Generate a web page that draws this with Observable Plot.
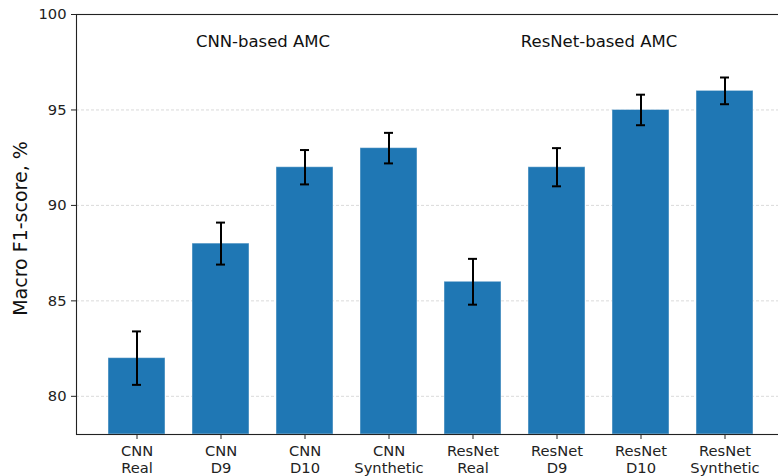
<!DOCTYPE html>
<html>
<head>
<meta charset="utf-8">
<script src="https://cdn.jsdelivr.net/npm/d3@7"></script>
<script src="https://cdn.jsdelivr.net/npm/@observablehq/plot@0.6"></script>
<style>
  html, body { margin: 0; padding: 0; background: #fff; }
  svg { overflow: hidden; }
</style>
</head>
<body>
<div id="chart"></div>
<script>
const categories = ["CNN\nReal", "CNN\nD9", "CNN\nD10", "CNN\nSynthetic",
                    "ResNet\nReal", "ResNet\nD9", "ResNet\nD10", "ResNet\nSynthetic"];
const f1Values = [82, 88, 92, 93, 86, 92, 95, 96];
const f1Errors = [1.4, 1.1, 0.9, 0.8, 1.2, 1.0, 0.8, 0.7];
const yTicks = [80, 85, 90, 95, 100];
const gridTicks = [80, 85, 90, 95];
const groupLabels = [
  {after: "CNN\nD9", text: "CNN-based AMC"},
  {after: "ResNet\nD9", text: "ResNet-based AMC"}
];
const yDomain = [78, 100];
const yLabel = "Macro F1-score, %";

const data = categories.map((c, i) => ({cat: c, value: f1Values[i], err: f1Errors[i]}));

const font = "'DejaVu Sans', sans-serif";
const chart = Plot.plot({
  width: 778,
  height: 476,
  marginLeft: 76,
  marginRight: -3,
  marginTop: 14,
  marginBottom: 42,
  style: {fontFamily: font, color: "#222", background: "#fff"},
  x: {domain: categories, range: [95, 767], paddingInner: 0.32, paddingOuter: 0.16, align: 0.5},
  y: {domain: yDomain},
  marks: [
    Plot.ruleY(gridTicks, {stroke: "#d0d0d0", strokeWidth: 0.8, strokeDasharray: "3,2"}),
    Plot.barY(data, {x: "cat", y1: () => yDomain[0], y2: "value", fill: "#1f77b4",
                     stroke: "#ffffff", strokeOpacity: 0.45, strokeWidth: 1}),
    Plot.ruleX(data, {x: "cat", y1: d => d.value - d.err, y2: d => d.value + d.err,
                      stroke: "#000", strokeWidth: 2}),
    Plot.tickY(data, {x: "cat", y: d => d.value + d.err, stroke: "#000", strokeWidth: 2,
                      insetLeft: 24, insetRight: 24}),
    Plot.tickY(data, {x: "cat", y: d => d.value - d.err, stroke: "#000", strokeWidth: 2,
                      insetLeft: 24, insetRight: 24}),
    Plot.text(groupLabels, {x: "after", y: () => 98.6, text: "text", dx: 42,
                            fontSize: 16.5, fill: "#111", textAnchor: "middle"}),
    Plot.frame({stroke: "#222", strokeWidth: 1.1}),
    Plot.axisY({ticks: yTicks, tickSize: 5, tickPadding: 5, fontSize: 14.7, label: null,
                stroke: "#222", fill: "#222"}),
    Plot.axisX({tickSize: 5, tickPadding: 5, fontSize: 14.7, label: null, lineHeight: 1.12,
                stroke: "#222", fill: "#222"}),
    Plot.text([yLabel], {frameAnchor: "left", rotate: -90, dx: -56, dy: 4,
                         fontSize: 19, fill: "#111", textAnchor: "middle"})
  ]
});
document.getElementById("chart").append(chart);
</script>
</body>
</html>
